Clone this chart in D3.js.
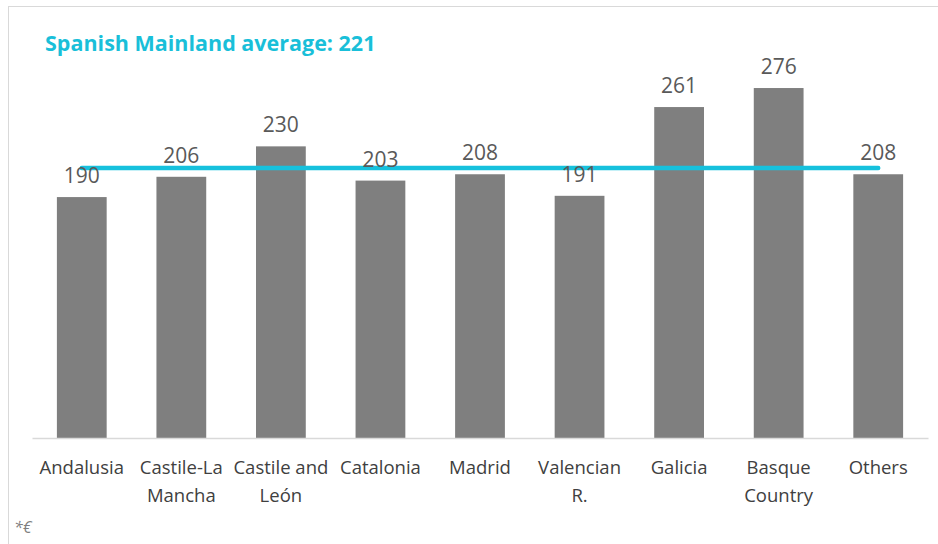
<!DOCTYPE html>
<html><head><meta charset="utf-8">
<script src="https://cdn.jsdelivr.net/npm/d3@7"></script>
<style>body{margin:0;background:#fff;}svg{display:block;}</style>
</head><body>
<script>
const categories = ["Andalusia","Castile-La Mancha","Castile and León","Catalonia","Madrid","Valencian R.","Galicia","Basque Country","Others"];
const values = [190,206,230,203,208,191,261,276,208];
const averageTitle = "Spanish Mainland average: 221";
const averageLineValue = 213;
const footnote = "*€";

const W = 938, H = 544;
const svg = d3.select("body").append("svg").attr("width", W).attr("height", H);
svg.append("rect").attr("x",8.5).attr("y",6.5).attr("width",W).attr("height",H)
  .attr("fill","#fff").attr("stroke","#d9d9d9");

const x = d3.scaleBand().domain(categories).range([32, 928]).paddingInner(0.5).paddingOuter(0.25);
const y = d3.scaleLinear().domain([0, 300]).range([438, 438 - 300*1.268]);

const font = "'Open Sans', sans-serif";

svg.selectAll("rect.bar").data(values).join("rect").attr("class","bar")
  .attr("x",(d,i)=>x(categories[i])).attr("width",x.bandwidth())
  .attr("y",d=>y(d)).attr("height",d=>y(0)-y(d)).attr("fill","#7f7f7f");

// baseline axis
const ax = svg.append("g").attr("transform","translate(0,438)").call(d3.axisBottom(x).tickSize(0).tickFormat(""));
ax.select(".domain").attr("stroke","#d9d9d9").attr("stroke-width",1.5);

// average line
const first = categories[0], last = categories[categories.length-1];
svg.append("line")
  .attr("x1", x(first)+x.bandwidth()/2).attr("x2", x(last)+x.bandwidth()/2)
  .attr("y1", y(averageLineValue)).attr("y2", y(averageLineValue))
  .attr("stroke","#16c1dd").attr("stroke-width",4.5).attr("stroke-linecap","round");

// value labels
svg.selectAll("text.val").data(values).join("text").attr("class","val")
  .attr("x",(d,i)=>x(categories[i])+x.bandwidth()/2).attr("y",d=>y(d)-14)
  .attr("text-anchor","middle").attr("font-family",font).attr("font-size",21)
  .attr("fill","#595959").text(d=>d);

// category labels with wrapping
const cat = svg.selectAll("text.cat").data(categories).join("text").attr("class","cat")
  .attr("x",d=>x(d)+x.bandwidth()/2).attr("y",474)
  .attr("text-anchor","middle").attr("font-family",font).attr("font-size",18.5)
  .attr("fill","#404040");
cat.each(function(d){
  const t = d3.select(this); const words = d.split(" "); let line = []; let lines=[];
  const probe = t.append("tspan");
  words.forEach(w=>{
    const test = line.concat([w]).join(" ");
    probe.text(test);
    if (probe.node().getComputedTextLength() > 97 && line.length){ lines.push(line.join(" ")); line=[w]; }
    else line.push(w);
  });
  lines.push(line.join(" "));
  probe.remove();
  lines.forEach((l,i)=>t.append("tspan").attr("x",x(d)+x.bandwidth()/2).attr("dy",i?28:0).text(l));
});

svg.append("text").attr("x",45).attr("y",51).attr("font-family",font).attr("font-weight","bold")
  .attr("font-size",21.5).attr("fill","#19bfd9").text(averageTitle);

svg.append("text").attr("x",14).attr("y",533).attr("font-family",font).attr("font-style","italic")
  .attr("font-size",16).attr("fill","#7f7f7f").text(footnote);
</script>
</body></html>
